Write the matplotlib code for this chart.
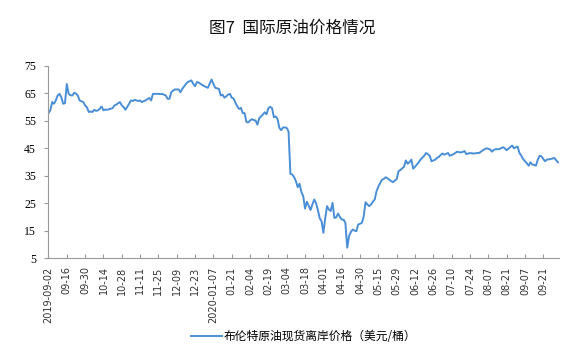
import matplotlib
matplotlib.use("Agg")
import numpy as np
import matplotlib.pyplot as plt

# Brent spot price, one value per trading day
brent = [
    57.7, 58.7, 61.7, 61.1, 62.3, 64.1, 64.7, 63.5, 61.1, 61.3,
    68.3, 64.7, 64.2, 64.1, 65.1, 64.8, 64.1, 62.3, 62.0, 61.7,
    60.5, 59.8, 58.1, 58.3, 58.1, 58.9, 58.5, 58.7, 59.3, 60.1,
    58.7, 59.0, 58.9, 59.1, 59.3, 59.5, 60.5, 60.8, 61.3, 61.7,
    60.5, 59.9, 58.9, 60.0, 61.1, 62.3, 62.1, 62.5, 62.3, 62.1,
    62.3, 61.7, 62.1, 62.3, 62.8, 63.2, 62.3, 64.7, 64.7, 64.7,
    64.7, 64.6, 64.7, 64.4, 64.1, 62.9, 62.9, 65.3, 65.9, 66.3,
    66.3, 66.3, 65.3, 66.5, 67.4, 68.3, 69.0, 69.3, 69.6, 68.3,
    67.5, 69.0, 68.8, 68.3, 67.9, 67.5, 67.2, 66.9, 68.5, 69.9,
    68.3, 66.9, 66.7, 66.5, 64.1, 64.4, 63.3, 63.8, 64.4, 64.7,
    63.3, 63.0, 61.5, 60.2, 59.2, 59.6, 57.7, 57.7, 54.5, 54.3,
    55.0, 55.5, 55.2, 55.0, 53.5, 55.8, 56.5, 57.2, 58.0, 57.3,
    59.5, 60.0, 59.5, 56.2, 56.5, 55.5, 52.3, 51.5, 52.5, 52.5,
    52.3, 51.0, 35.6, 35.4, 34.5, 33.0, 30.8, 32.0, 29.0, 27.5,
    23.0, 25.5, 24.0, 22.5, 24.5, 26.3, 25.0, 22.5, 19.5, 18.4,
    14.2, 19.5, 23.9, 22.7, 22.1, 25.1, 19.6, 19.8, 21.2, 20.0,
    19.0, 19.0, 17.8, 8.8, 13.0, 14.5, 15.4, 15.0, 14.8, 17.2,
    17.5, 17.8, 20.2, 25.3, 24.5, 23.9, 24.5, 25.5, 26.3, 29.3,
    31.0, 32.3, 33.5, 33.8, 34.4, 34.0, 33.5, 33.0, 32.6, 33.2,
    33.7, 36.6, 37.0, 37.6, 38.2, 40.5, 39.3, 39.9, 40.8, 37.5,
    38.2, 39.0, 39.8, 40.8, 41.5, 42.2, 43.2, 42.8, 42.2, 40.2,
    40.5, 40.8, 41.4, 41.8, 42.5, 43.0, 42.6, 42.9, 43.2, 42.2,
    42.5, 42.8, 43.2, 43.7, 43.5, 43.4, 43.6, 43.9, 42.8, 43.0,
    43.2, 43.1, 43.0, 43.1, 43.2, 43.2, 43.7, 44.2, 44.6, 44.9,
    44.7, 44.5, 43.7, 44.3, 44.6, 44.6, 44.6, 45.0, 45.3, 44.9,
    44.2, 44.8, 45.4, 45.9, 44.9, 45.3, 45.5, 43.2, 42.2, 41.0,
    40.2, 39.5, 38.6, 39.8, 39.0, 38.9, 38.6, 40.8, 42.2, 42.0,
    41.0, 40.2, 40.8, 40.9, 41.0, 41.2, 41.4, 40.6, 39.8,
]

# one label every 10 trading days
date_labels = [
    "2019-09-02", "09-16", "09-30", "10-14", "10-28", "11-11", "11-25",
    "12-09", "12-23", "2020-01-07", "01-21", "02-04", "02-19", "03-04",
    "03-18", "04-01", "04-16", "04-30", "05-15", "05-29", "06-12",
    "06-26", "07-10", "07-24", "08-07", "08-21", "09-07", "09-21",
]
y_ticks = [5, 15, 25, 35, 45, 55, 65, 75]

plt.rcParams['font.family'] = ['Noto Sans CJK SC', 'DejaVu Sans']

fig = plt.figure(figsize=(5.84, 3.58), dpi=100)
ax = fig.add_axes([0.083, 0.279, 0.874, 0.538])

x = np.arange(len(brent))
ax.plot(x, brent, color='#4a8fd6', lw=1.4,
        label='布伦特原油现货离岸价格（美元/桶）')

ax.set_xlim(0, len(brent) - 0.5)
ax.set_ylim(5, 75)
ax.set_yticks(y_ticks)
ax.set_yticklabels([str(v) for v in y_ticks], family='Liberation Serif', fontsize=8.5)
ax.set_xticks(np.arange(0, 10 * len(date_labels), 10))
ax.set_xticklabels(date_labels, rotation=90, fontsize=7, family='DejaVu Sans',
                   color='#333333')

for s in ['top', 'right']:
    ax.spines[s].set_visible(False)
for s in ['left', 'bottom']:
    ax.spines[s].set_color('#999999')
    ax.spines[s].set_linewidth(0.8)
ax.tick_params(axis='y', direction='out', length=3, color='#999999', pad=6)
ax.tick_params(axis='x', direction='in', length=3, color='#999999', pad=6)

fig.text(0.5, 0.922, '图7  国际原油价格情况', ha='center', va='center',
         fontsize=12, fontweight='medium', color='#111111')
fig.legend(loc='center', bbox_to_anchor=(0.52, 0.06), frameon=False,
           fontsize=8.5, handlelength=2.6, handletextpad=0.2)

fig.savefig('out.png', dpi=100)
